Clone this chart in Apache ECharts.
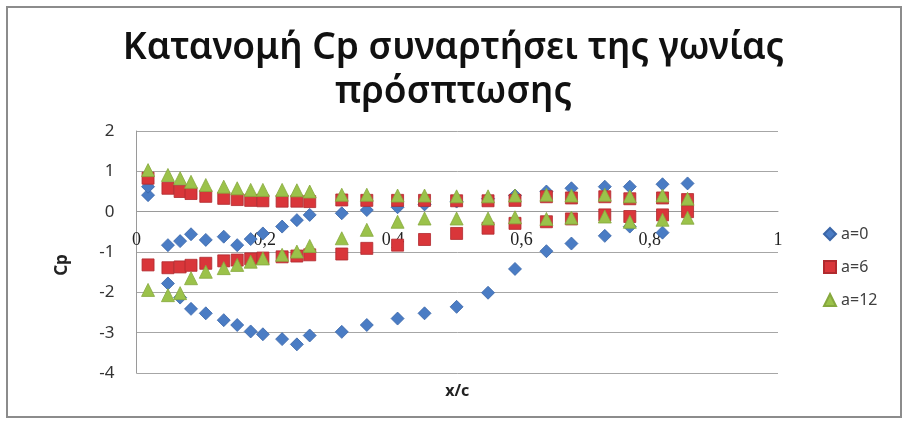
<!DOCTYPE html>
<html>
<head>
<meta charset="utf-8">
<script src="https://cdn.jsdelivr.net/npm/echarts@6/dist/echarts.min.js"></script>
<style>
html,body{margin:0;padding:0;background:#fff;}
#c{width:907px;height:421px;}
</style>
</head>
<body>
<div id="c"></div>
<script>
// x/c stations
var stations = [0.018, 0.049, 0.068, 0.085, 0.108, 0.136, 0.157, 0.178, 0.197, 0.227, 0.250, 0.270,
                0.320, 0.359, 0.407, 0.449, 0.499, 0.548, 0.590, 0.639, 0.678, 0.730, 0.769, 0.820, 0.859];

// a=0
var a0Upper = [0.41, -0.83, -0.73, -0.56, -0.70, -0.62, -0.83, -0.68, -0.54, -0.37, -0.21, -0.08,
               -0.04, 0.04, 0.11, 0.18, 0.25, 0.32, 0.40, 0.50, 0.58, 0.62, 0.62, 0.68, 0.70];
var a0Lower = [0.62, -1.78, -2.13, -2.41, -2.52, -2.69, -2.81, -2.97, -3.04, -3.16, -3.29, -3.07,
               -2.98, -2.81, -2.65, -2.52, -2.36, -2.01, -1.42, -0.98, -0.79, -0.60, -0.37, -0.52, null];
// a=6
var a6Upper = [0.83, 0.58, 0.50, 0.45, 0.38, 0.33, 0.30, 0.28, 0.27, 0.26, 0.26, 0.25,
               0.29, 0.28, 0.28, 0.28, 0.27, 0.27, 0.28, 0.37, 0.34, 0.37, 0.32, 0.34, 0.30];
var a6Lower = [-1.32, -1.39, -1.37, -1.33, -1.28, -1.22, -1.20, -1.17, -1.15, -1.12, -1.10, -1.07,
               -1.05, -0.91, -0.83, -0.69, -0.54, -0.41, -0.29, -0.25, -0.18, -0.08, -0.12, -0.08, 0.00];
// a=12
var a12Upper = [1.03, 0.91, 0.83, 0.74, 0.66, 0.62, 0.58, 0.54, 0.54, 0.54, 0.53, 0.50,
                0.42, 0.42, 0.40, 0.40, 0.38, 0.38, 0.40, 0.42, 0.40, 0.42, 0.38, 0.40, 0.32];
var a12Lower = [-1.94, -2.07, -2.02, -1.65, -1.49, -1.40, -1.32, -1.24, -1.16, -1.07, -0.99, -0.85,
                -0.66, -0.45, -0.25, -0.17, -0.17, -0.17, -0.14, -0.18, -0.15, -0.12, -0.25, -0.20, -0.15];

var seriesNames = ['a=0', 'a=6', 'a=12'];
var yTicks = [2, 1, 0, -1, -2, -3, -4];
var xTicks = [0, 0.2, 0.4, 0.6, 0.8, 1];

function pts(up, lo) {
  var out = [];
  stations.forEach(function (x, i) {
    if (up[i] !== null) out.push([x, up[i]]);
    if (lo[i] !== null) out.push([x, lo[i]]);
  });
  return out;
}

var GRID_TOP = 131, GRID_BOTTOM = 48, Y_MIN = -4, Y_MAX = 2;
var plotH = 421 - GRID_TOP - GRID_BOTTOM;
// shift the x axis up so that it sits on the y = 0 line
var zeroOffset = -plotH * (0 - Y_MIN) / (Y_MAX - Y_MIN);

var chart = echarts.init(document.getElementById('c'), null, {renderer: 'canvas'});
var option = {
  animation: false,
  backgroundColor: '#fff',
  title: {
    text: 'Κατανομή Cp συναρτήσει της γωνίας\nπρόσπτωσης',
    left: 'center',
    top: 21,
    textStyle: {
      fontFamily: 'Noto Sans',
      fontSize: 37,
      fontWeight: 600,
      color: '#111',
      lineHeight: 44
    }
  },
  graphic: [{
    type: 'rect',
    shape: {x: 7, y: 7, width: 894, height: 410},
    style: {fill: 'none', stroke: '#8c8c8c', lineWidth: 2},
    silent: true
  }],
  legend: {
    orient: 'vertical',
    left: 818,
    top: 221,
    itemGap: 17,
    itemWidth: 12,
    itemHeight: 12,
    textStyle: {fontFamily: 'Noto Sans', fontSize: 16, color: '#404040'},
    data: [
      {name: 'a=0', icon: 'diamond'},
      {name: 'a=6', icon: 'rect'},
      {name: 'a=12', icon: 'triangle'}
    ]
  },
  grid: {left: 136.5, right: 129, top: GRID_TOP, bottom: GRID_BOTTOM, containLabel: false, outerBoundsMode: 'none'},
  xAxis: {
    type: 'value',
    position: 'bottom',
    offset: zeroOffset,
    min: 0, max: 1, interval: 0.2,
    name: 'x/c',
    nameLocation: 'middle',
    nameGap: 172,
    nameTextStyle: {fontFamily: 'Noto Sans', fontSize: 16, fontWeight: 'bold', color: '#222'},
    axisLine: {onZero: false, lineStyle: {color: '#9a9a9a', width: 1}},
    axisTick: {show: false},
    splitLine: {show: false},
    axisLabel: {
      margin: 20,
      fontFamily: 'Liberation Serif',
      fontSize: 18,
      color: '#222',
      formatter: function (v) { return xTicks.indexOf(v) >= 0 ? String(v).replace('.', ',') : ''; }
    }
  },
  yAxis: {
    type: 'value',
    min: Y_MIN, max: Y_MAX, interval: 1,
    name: 'Cp',
    nameLocation: 'middle',
    nameGap: 66,
    nameRotate: 90,
    nameTextStyle: {fontFamily: 'Noto Sans', fontSize: 17, fontWeight: 'bold', color: '#222', padding: [0, 0, 0, -26]},
    axisLine: {show: true, onZero: false, lineStyle: {color: '#9a9a9a'}},
    axisTick: {show: false},
    splitLine: {show: true, lineStyle: {color: '#a6a6a6', width: 1}},
    axisLabel: {
      margin: 22,
      fontFamily: 'Noto Sans',
      fontSize: 17,
      color: '#333',
      formatter: function (v) { return yTicks.indexOf(v) >= 0 ? String(v) : ''; }
    }
  },
  series: [
    {name: seriesNames[0], type: 'scatter', symbol: 'diamond', symbolSize: 13,
     itemStyle: {color: '#4a7cc4', borderColor: '#3a66a8', borderWidth: 0.8, opacity: 1}, data: pts(a0Upper, a0Lower)},
    {name: seriesNames[1], type: 'scatter', symbol: 'rect', symbolSize: 12,
     itemStyle: {color: '#d9363a', borderColor: '#b02a2e', borderWidth: 0.8, opacity: 1}, data: pts(a6Upper, a6Lower)},
    {name: seriesNames[2], type: 'scatter', symbol: 'triangle', symbolSize: 13,
     itemStyle: {color: '#9bc24a', borderColor: '#86a83e', borderWidth: 0.8, opacity: 1}, data: pts(a12Upper, a12Lower)}
  ]
};
chart.setOption(option);
</script>
</body>
</html>
